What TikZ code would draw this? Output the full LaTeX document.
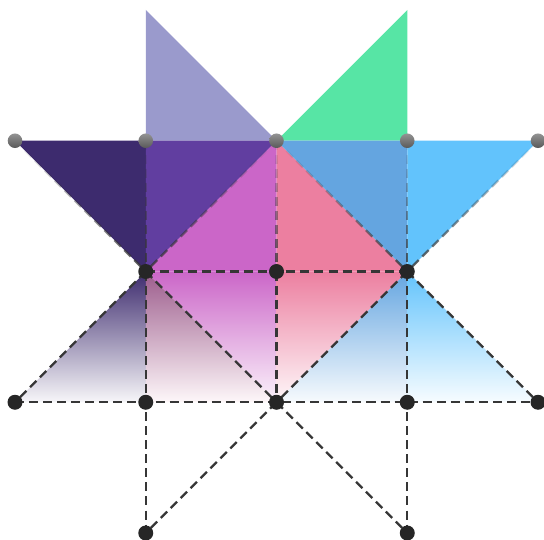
\documentclass[tikz,border=0pt]{standalone}
\usetikzlibrary{fadings}
\definecolor{lpurple}{HTML}{9A9ACC}
\definecolor{mint}{HTML}{57E5A5}
\definecolor{dpurple}{HTML}{3D2B6E}
\definecolor{mpurple}{HTML}{613EA0}
\definecolor{magen}{HTML}{CB66C8}
\definecolor{rose}{HTML}{EC7FA0}
\definecolor{steel}{HTML}{64A5E0}
\definecolor{sky}{HTML}{62C3FC}
\definecolor{mauve}{HTML}{9C5C8C}
\definecolor{dashcol}{HTML}{363636}
\definecolor{dotcol}{HTML}{262626}
\tikzfading[name=fadeup, top color=transparent!100, bottom color=transparent!15]
\begin{document}
\begin{tikzpicture}[x={(0.03cm,0)}, y={(0,-0.03cm)},
  dashline/.style={draw=dashcol, line width=1.9pt, dash pattern=on 7.7pt off 4.3pt},
  fadeline/.style={dashline, path fading=fadeup},
  dot/.style={circle, fill=dotcol, inner sep=0pt, minimum size=12.8pt},
  gdot/.style={circle, inner sep=0pt, minimum size=12.4pt, top color=gray!85, bottom color=black!65}]
\useasboundingbox (0,0) rectangle (544,539);
\foreach \i in {0,...,4}{
  \foreach \j in {0,...,4}{
    \coordinate (g\i\j) at ({15+130.75*\i},{533-130.75*\j});
  }
}
% upper solid triangles
\fill[lpurple] (g14) -- (g13) -- (g23) -- cycle;
\fill[mint] (g34) -- (g23) -- (g33) -- cycle;
\fill[dpurple] (g03) -- (g13) -- (g12) -- cycle;
\fill[mpurple] (g13) -- (g23) -- (g12) -- cycle;
\fill[magen] (g23) -- (g22) -- (g12) -- cycle;
\fill[rose] (g23) -- (g32) -- (g22) -- cycle;
\fill[steel] (g23) -- (g33) -- (g32) -- cycle;
\fill[sky] (g33) -- (g43) -- (g32) -- cycle;
% lower fading triangles
\shade[top color=dpurple, bottom color=dpurple!4] (g12) -- (g01) -- (g11) -- cycle;
\shade[top color=mauve, bottom color=rose!6] (g12) -- (g11) -- (g21) -- cycle;
\shade[top color=magen, bottom color=magen!8] (g12) -- (g22) -- (g21) -- cycle;
\shade[top color=rose, bottom color=rose!6] (g22) -- (g32) -- (g21) -- cycle;
\shade[top color=steel, bottom color=steel!5] (g32) -- (g21) -- (g31) -- cycle;
\shade[top color=sky, bottom color=sky!5] (g32) -- (g31) -- (g41) -- cycle;
% faded dashed lines in the upper part
\draw[fadeline] (g13) -- (g12);
\draw[fadeline] (g23) -- (g22);
\draw[fadeline] (g33) -- (g32);
\draw[fadeline] (g03) -- (g12);
\draw[fadeline] (g23) -- (g12);
\draw[fadeline] (g23) -- (g32);
\draw[fadeline] (g43) -- (g32);
% lower dashed lines
\draw[dashline] (g12) -- (g32);
\draw[dashline] (g01) -- (g41);
\draw[dashline] (g12) -- (g10);
\draw[dashline] (g32) -- (g30);
\draw[dashline] (g22) -- (g21);
\draw[dashline] (g12) -- (g01);
\draw[dashline] (g12) -- (g21);
\draw[dashline] (g32) -- (g21);
\draw[dashline] (g32) -- (g41);
\draw[dashline] (g21) -- (g10);
\draw[dashline] (g21) -- (g30);
% points
\foreach \i in {0,...,4}{\node[gdot] (d\i3) at (g\i3) {};}
\foreach \i in {1,2,3}{\node[dot] (d\i2) at (g\i2) {};}
\foreach \i in {0,...,4}{\node[dot] (d\i1) at (g\i1) {};}
\node[dot] (d10) at (g10) {};
\node[dot] (d30) at (g30) {};
\end{tikzpicture}
\end{document}
